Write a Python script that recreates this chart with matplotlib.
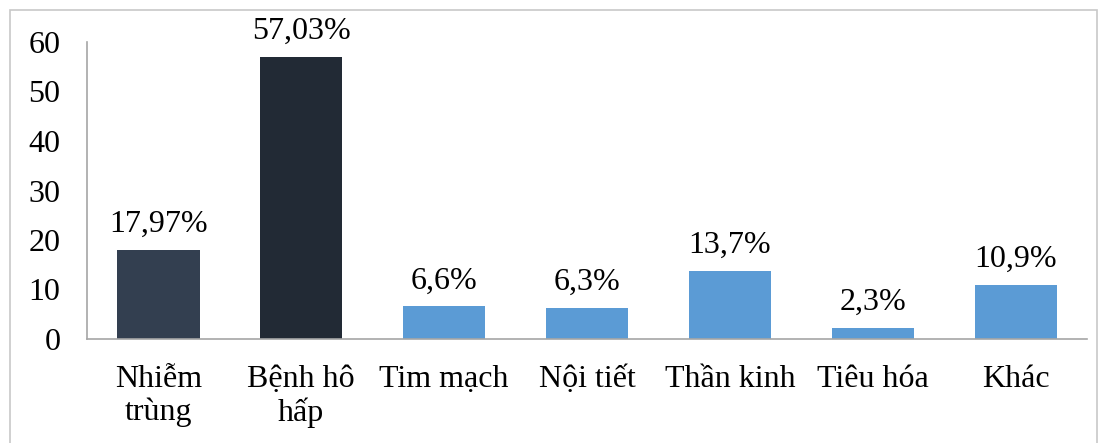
import matplotlib.pyplot as plt
from matplotlib.patches import Rectangle

categories = ['Nhiễm\ntrùng', 'Bệnh hô\nhấp', 'Tim mạch', 'Nội tiết', 'Thần kinh', 'Tiêu hóa', 'Khác']
values = [17.97, 57.03, 6.6, 6.3, 13.7, 2.3, 10.9]
labels = ['17,97%', '57,03%', '6,6%', '6,3%', '13,7%', '2,3%', '10,9%']
colors = ['#333F50', '#222A35', '#5B9BD5', '#5B9BD5', '#5B9BD5', '#5B9BD5', '#5B9BD5']

plt.rcParams['font.family'] = ['Liberation Serif', 'DejaVu Serif']
fs = 23

fig = plt.figure(figsize=(11.03, 4.43), dpi=100)
ax = fig.add_axes([87 / 1103, 1 - 339 / 443, 1000 / 1103, 297 / 443])

x = range(len(values))
bars = ax.bar(x, values, width=0.575, color=colors)
ax.set_xlim(-0.5, len(values) - 0.5)
ax.set_ylim(0, 60)
ax.set_yticks(range(0, 61, 10))

for b, lab in zip(bars, labels):
    ax.text(b.get_x() + b.get_width() / 2, b.get_height() + 2.2, lab,
            ha='center', va='bottom', fontsize=fs, clip_on=False)

ax.set_xticks(list(x))
ax.set_xticklabels(categories, fontsize=fs, linespacing=1.15, va='top')
ax.tick_params(axis='y', length=0, pad=19, labelsize=fs)
ax.tick_params(axis='x', length=0, pad=19)

for s in ['top', 'right']:
    ax.spines[s].set_visible(False)
for s in ['left', 'bottom']:
    ax.spines[s].set_color('#A6A6A6')
    ax.spines[s].set_linewidth(1.2)

fig.patches.append(Rectangle((10 / 1103, -0.01), 1087 / 1103, 1 - 10 / 443 + 0.01,
                             transform=fig.transFigure, fill=False,
                             edgecolor='#C8C8C8', linewidth=1.2))

fig.savefig('out.png', dpi=100)
